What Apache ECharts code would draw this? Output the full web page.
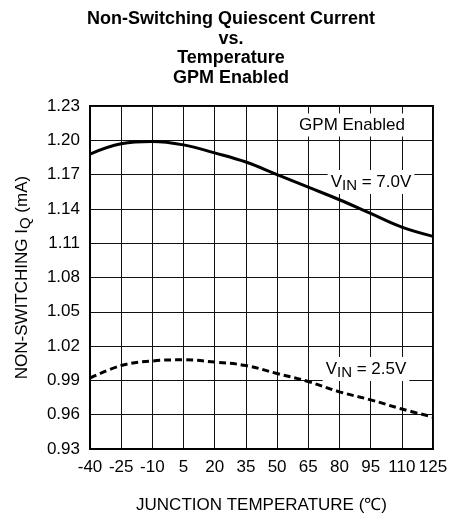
<!DOCTYPE html>
<html><head><meta charset="utf-8">
<script src="https://cdn.jsdelivr.net/npm/echarts@6/dist/echarts.min.js"></script>
<style>html,body{margin:0;padding:0;background:#fff}#c{width:452px;height:516px}</style>
</head><body><div id="c"></div>
<script>
const temperatures = ['-40','-25','-10','5','20','35','50','65','80','95','110','125'];
const vin70 = [1.188,1.197,1.199,1.196,1.189,1.181,1.170,1.159,1.148,1.136,1.124,1.116];
const vin25 = [0.992,1.003,1.007,1.008,1.006,1.003,0.996,0.989,0.980,0.973,0.965,0.958];
const titleLines = ['Non-Switching Quiescent Current','vs.','Temperature','GPM Enabled'];
const xName = 'JUNCTION TEMPERATURE (\u2103)';
const yMin = 0.93, yMax = 1.23, yStep = 0.03;

const FONT = "'Liberation Sans', Arial, sans-serif";
const chart = echarts.init(document.getElementById('c'), null, {renderer: 'canvas'});
const sub = {
  v: {fontSize: 17, fontFamily: FONT, color: '#000', lineHeight: 22},
  s: {fontSize: 15, fontFamily: FONT, color: '#000', lineHeight: 15, verticalAlign: 'bottom'}
};
chart.setOption({
  backgroundColor: '#fff',
  animation: false,
  grid: {left: 90, right: 19, top: 106, bottom: 67, show: true, borderColor: '#000', borderWidth: 2,
         containLabel: false, outerBoundsMode: 'none'},
  xAxis: {
    type: 'category', data: temperatures, boundaryGap: false,
    axisLine: {lineStyle: {color: '#000', width: 2}},
    axisTick: {show: false},
    axisLabel: {interval: 0, margin: 10, color: '#000', fontSize: 17, fontFamily: FONT},
    splitLine: {show: true, interval: 0, lineStyle: {color: '#111', width: 1}},
    name: xName, nameLocation: 'middle', nameGap: 48, nameMoveOverlap: false,
    nameTextStyle: {color: '#000', fontSize: 17, fontFamily: FONT}
  },
  yAxis: {
    type: 'value', min: yMin, max: yMax, interval: yStep,
    axisLine: {show: true, lineStyle: {color: '#000', width: 2}},
    axisTick: {show: false},
    axisLabel: {margin: 10, color: '#000', fontSize: 17, fontFamily: FONT, formatter: v => v.toFixed(2)},
    splitLine: {show: true, lineStyle: {color: '#111', width: 1}},
    name: '{v|NON-SWITCHING I}{s|Q}{v| (mA)}', nameLocation: 'middle', nameGap: 57, nameRotate: 90,
    nameMoveOverlap: false,
    nameTextStyle: {rich: sub}
  },
  series: [
    {name: 'VIN = 7.0V', type: 'line', data: vin70, smooth: 0.4, symbol: 'none', z: 3,
     lineStyle: {color: '#000', width: 3}},
    {name: 'VIN = 2.5V', type: 'line', data: vin25, smooth: 0.4, symbol: 'none', z: 3,
     lineStyle: {color: '#000', width: 3, type: [7, 4]}}
  ],
  graphic: [
    {type: 'text', x: 231, y: 9, z: 10,
     style: {text: titleLines.join('\n'), align: 'center', verticalAlign: 'top',
             font: "bold 18px 'Liberation Sans', Arial, sans-serif", lineHeight: 19.7, fill: '#000'}},
    {type: 'text', x: 352, y: 125, z: 1,
     style: {text: 'GPM Enabled', align: 'center', verticalAlign: 'middle',
             font: "17px 'Liberation Sans', Arial, sans-serif", fill: '#000',
             backgroundColor: '#fff', padding: [3, 4, 3, 4]}},
    {type: 'text', x: 371, y: 182, z: 1,
     style: {text: '{v|V}{s|IN}{v| = 7.0V}', rich: sub, align: 'center', verticalAlign: 'middle',
             backgroundColor: '#fff', padding: [1, 3, 1, 3]}},
    {type: 'text', x: 366, y: 369, z: 1,
     style: {text: '{v|V}{s|IN}{v| = 2.5V}', rich: sub, align: 'center', verticalAlign: 'middle',
             backgroundColor: '#fff', padding: [1, 3, 1, 3]}}
  ]
});
</script></body></html>
